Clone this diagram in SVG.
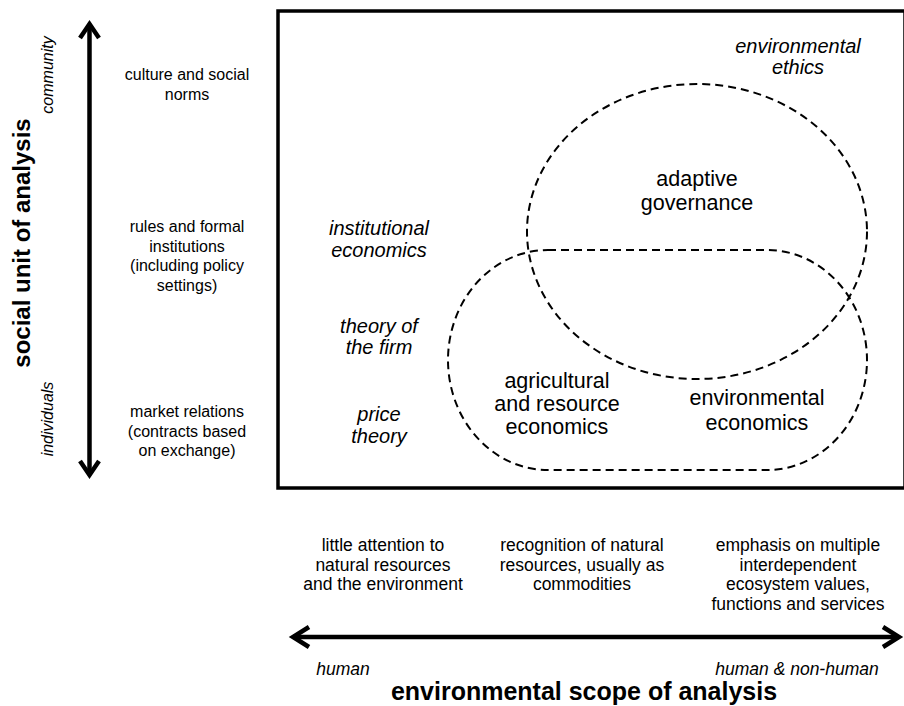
<svg xmlns="http://www.w3.org/2000/svg" width="904" height="706" viewBox="0 0 904 706">
<style>
text{font-family:"Liberation Sans",Arial,sans-serif;fill:#000}
.l{font-size:17.5px;text-anchor:middle}
.lc{font-size:16px;text-anchor:middle}
.it{font-size:20px;font-style:italic;text-anchor:middle}
.ri{font-size:16px;font-style:italic;text-anchor:middle}
.hx{font-size:17.5px;font-style:italic;text-anchor:middle}
.big{font-size:21.5px;text-anchor:middle}
.ttl{font-size:24px;font-weight:bold;text-anchor:middle}
.ax{fill:none;stroke:#000;stroke-width:4.5}
.dash{fill:none;stroke:#000;stroke-width:2;stroke-dasharray:8 5}
</style>
<rect id="frame" x="278" y="11" width="627" height="477" fill="none" stroke="#000" stroke-width="3.5"/>
<g id="connectors">
<line class="ax" x1="89.5" y1="24" x2="89.5" y2="475"/>
<polyline class="ax" points="80,38 89.5,24 99,38"/>
<polyline class="ax" points="80,461 89.5,475 99,461"/>
<line class="ax" x1="293" y1="637" x2="899" y2="637"/>
<polyline class="ax" points="309,627 293,637 309,647"/>
<polyline class="ax" points="883,627 899,637 883,647"/>
</g>
<g id="adaptive-governance">
<ellipse class="dash" cx="697" cy="231.5" rx="170" ry="147.5"/>
<text class="big" x="697" y="186">adaptive</text>
<text class="big" x="697" y="210">governance</text>
</g>
<g id="economics-pill">
<rect class="dash" x="448" y="250" width="419" height="220" rx="100" ry="110"/>
</g>
<g id="agri">
<text class="big" x="557" y="388">agricultural</text>
<text class="big" x="557" y="411">and resource</text>
<text class="big" x="557" y="434">economics</text>
</g>
<g id="env-econ">
<text class="big" x="757" y="405">environmental</text>
<text class="big" x="757" y="430">economics</text>
</g>
<g id="ethics">
<text class="it" x="798" y="53">environmental</text>
<text class="it" x="798" y="74">ethics</text>
</g>
<g id="inst">
<text class="it" x="379" y="235">institutional</text>
<text class="it" x="379" y="257">economics</text>
</g>
<g id="firm">
<text class="it" x="379" y="333">theory of</text>
<text class="it" x="379" y="354">the firm</text>
</g>
<g id="price">
<text class="it" x="379" y="421">price</text>
<text class="it" x="379" y="443">theory</text>
</g>
<g id="left-labels">
<text class="lc" x="187" y="80">culture and social</text>
<text class="lc" x="187" y="99.5">norms</text>
<text class="lc" x="187" y="232">rules and formal</text>
<text class="lc" x="187" y="251.5">institutions</text>
<text class="lc" x="187" y="271">(including policy</text>
<text class="lc" x="187" y="290.5">settings)</text>
<text class="lc" x="187" y="417">market relations</text>
<text class="lc" x="187" y="436.5">(contracts based</text>
<text class="lc" x="187" y="456">on exchange)</text>
</g>
<g id="y-axis-labels">
<text class="ttl" transform="translate(30,243) rotate(-90)">social unit of analysis</text>
<text class="ri" transform="translate(53,75) rotate(-90)">community</text>
<text class="ri" transform="translate(53,419) rotate(-90)">individuals</text>
</g>
<g id="bottom-labels">
<text class="l" x="383" y="551">little attention to</text>
<text class="l" x="383" y="570.5">natural resources</text>
<text class="l" x="383" y="590">and the environment</text>
<text class="l" x="582" y="551">recognition of natural</text>
<text class="l" x="582" y="570.5">resources, usually as</text>
<text class="l" x="582" y="590">commodities</text>
<text class="l" x="798" y="551">emphasis on multiple</text>
<text class="l" x="798" y="570.5">interdependent</text>
<text class="l" x="798" y="590">ecosystem values,</text>
<text class="l" x="798" y="609.5">functions and services</text>
</g>
<g id="x-axis-labels">
<text class="hx" x="343" y="675">human</text>
<text class="hx" x="797" y="675">human &amp; non-human</text>
<text class="ttl" style="font-size:25px" x="584" y="700">environmental scope of analysis</text>
</g>
</svg>
